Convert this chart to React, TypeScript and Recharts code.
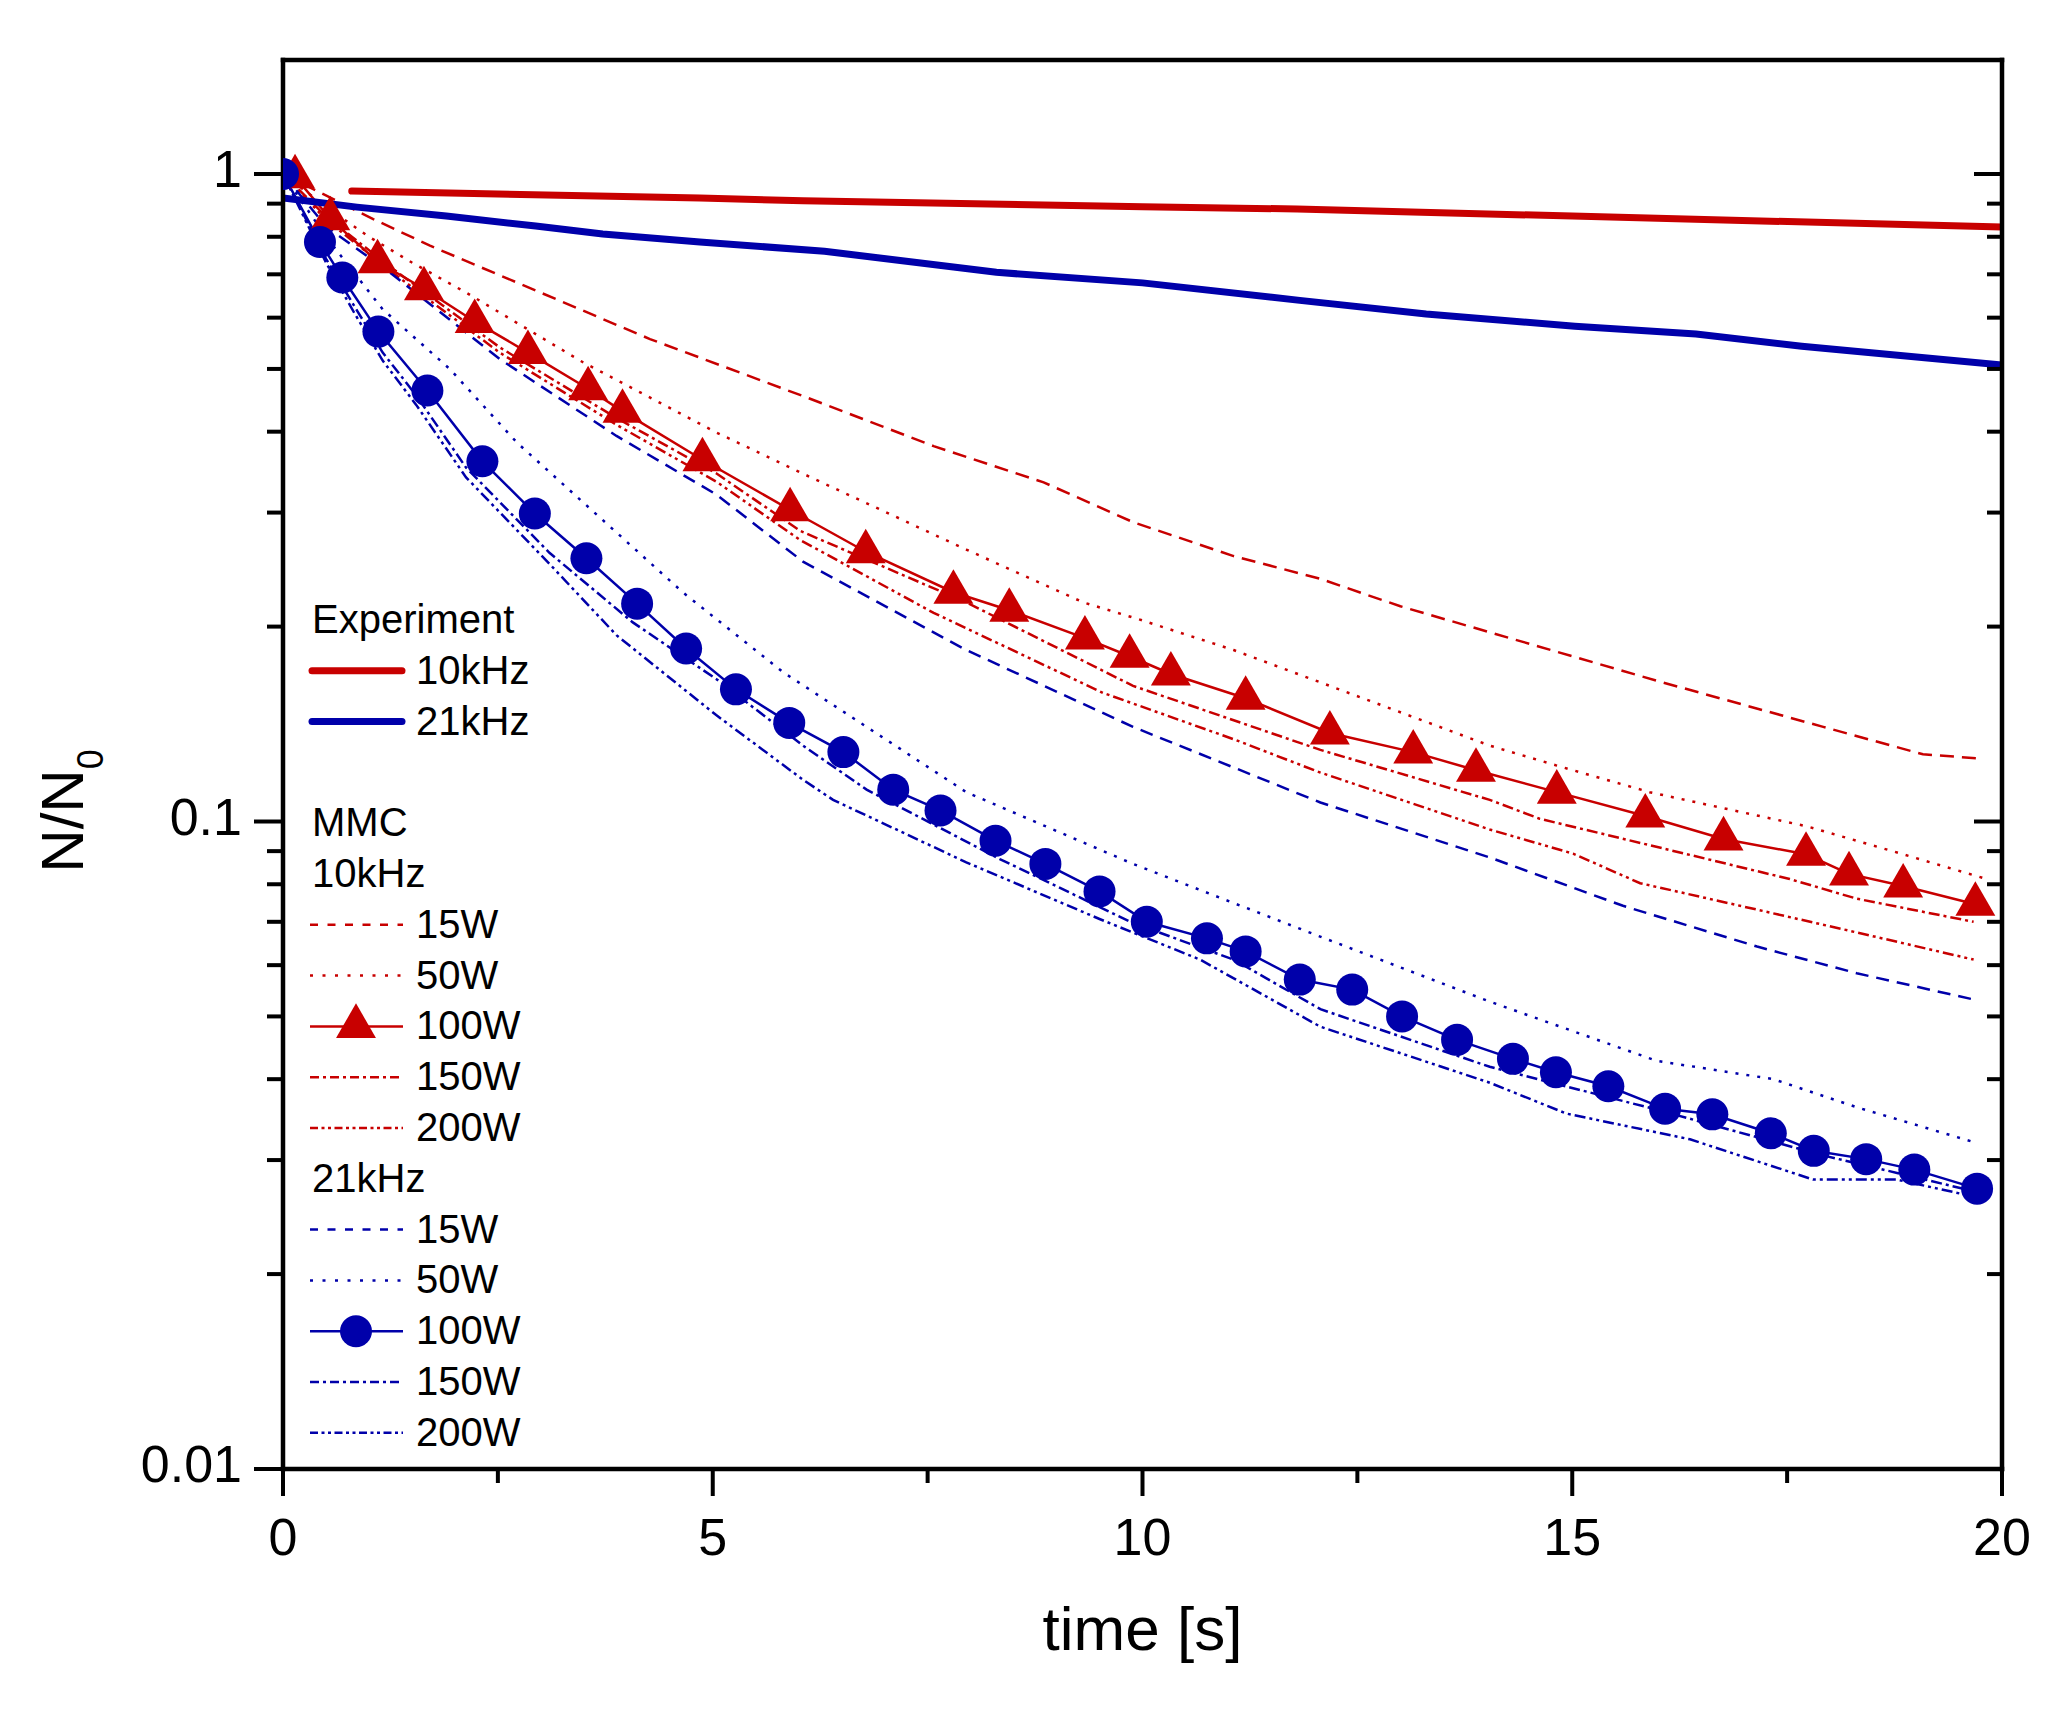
import React from "react";
import { LineChart, Line, XAxis, YAxis, Legend, Symbols } from "recharts";

const RED = "#c80000";
const BLUE = "#0000aa";
const FONT = '"Liberation Sans", Arial, Helvetica, sans-serif';

// [time s, N/N0]
const exp10kHz: [number, number][] = [
  [0.8, 0.941], [4.85, 0.918], [6.05, 0.909], [10, 0.89], [11.8, 0.883], [15, 0.861], [20, 0.828],
];
const exp21kHz: [number, number][] = [
  [0, 0.918], [0.86, 0.889], [1.9, 0.861], [2.94, 0.831], [3.72, 0.808], [4.85, 0.785], [6.3, 0.76],
  [8.3, 0.705], [10, 0.679], [11.83, 0.638], [13.3, 0.608], [15.03, 0.582], [16.44, 0.566],
  [17.67, 0.542], [20, 0.507],
];

const mmc10k15W: [number, number][] = [
  [0, 1], [0.39, 0.942], [1.05, 0.852], [1.71, 0.775], [2.95, 0.66], [4.27, 0.556], [6.05, 0.454],
  [7.57, 0.38], [8.85, 0.334], [9.89, 0.29], [11.06, 0.257], [12.07, 0.237], [13, 0.215],
  [14.04, 0.196], [15.98, 0.165], [17.92, 0.14], [19.08, 0.127], [19.78, 0.125],
];
const mmc10k50W: [number, number][] = [
  [0, 1], [0.5, 0.89], [1, 0.8], [1.5, 0.73], [2.13, 0.656], [3.49, 0.512], [5.04, 0.399],
  [6.02, 0.346], [7.95, 0.263], [9.31, 0.218], [9.97, 0.205], [11.06, 0.184], [12.07, 0.164],
  [14.04, 0.131], [14.82, 0.122], [15.9, 0.111], [17.73, 0.0983], [18.7, 0.0902], [19.78, 0.0818],
];
const mmc10k100W: [number, number][] = [
  [0.14, 0.99], [0.55, 0.853], [1.1, 0.732], [1.64, 0.665], [2.23, 0.592], [2.85, 0.53],
  [3.55, 0.466], [3.95, 0.43], [4.88, 0.362], [5.9, 0.303], [6.78, 0.261], [7.8, 0.226],
  [8.45, 0.212], [9.33, 0.192], [9.85, 0.18], [10.33, 0.169], [11.2, 0.155], [12.18, 0.137],
  [13.15, 0.128], [13.88, 0.12], [14.82, 0.111], [15.85, 0.102], [16.76, 0.094], [17.72, 0.089],
  [18.22, 0.083], [18.85, 0.0795], [19.69, 0.0745],
];
const mmc10k150W: [number, number][] = [
  [0, 1], [0.5, 0.86], [1.24, 0.72], [2.52, 0.54], [3.88, 0.42], [5.04, 0.345], [6.02, 0.281],
  [7.95, 0.218], [9.89, 0.162], [12.07, 0.129], [14.04, 0.108], [14.62, 0.101], [16.37, 0.0888],
  [17.53, 0.0815], [18.31, 0.076], [19.67, 0.07],
];
const mmc10k200W: [number, number][] = [
  [0, 1], [0.5, 0.85], [1.24, 0.71], [2.52, 0.53], [3.88, 0.41], [5.04, 0.335], [6.02, 0.272],
  [7.57, 0.21], [9.54, 0.158], [11.06, 0.134], [12.07, 0.119], [14.04, 0.0972], [15.01, 0.0892],
  [15.79, 0.0803], [17.15, 0.0731], [18.31, 0.0674], [19.67, 0.0612],
];

const mmc21k15W: [number, number][] = [
  [0, 1], [0.5, 0.83], [1.24, 0.705], [2.52, 0.518], [3.88, 0.394], [5.04, 0.32], [6.05, 0.252],
  [7.95, 0.184], [9.89, 0.14], [12.07, 0.107], [14.04, 0.088], [15.59, 0.0741], [17.15, 0.0641],
  [18.31, 0.0583], [19.67, 0.0531],
];
const mmc21k50W: [number, number][] = [
  [0, 1], [0.5, 0.8], [1.16, 0.618], [1.94, 0.5], [2.72, 0.385], [4.65, 0.226], [5.82, 0.17],
  [7.95, 0.111], [9.89, 0.086], [12.03, 0.0667], [14.04, 0.0527], [15.98, 0.0427], [17.34, 0.04],
  [18.31, 0.0362], [19.7, 0.0319],
];
const mmc21k100W: [number, number][] = [
  [0, 1], [0.43, 0.785], [0.69, 0.692], [1.11, 0.571], [1.68, 0.463], [2.32, 0.36], [2.93, 0.299],
  [3.53, 0.255], [4.12, 0.217], [4.69, 0.185], [5.27, 0.16], [5.89, 0.142], [6.52, 0.128],
  [7.1, 0.112], [7.65, 0.104], [8.29, 0.0934], [8.87, 0.086], [9.5, 0.078], [10.05, 0.07],
  [10.75, 0.066], [11.2, 0.063], [11.83, 0.057], [12.44, 0.055], [13.02, 0.05], [13.66, 0.046],
  [14.31, 0.043], [14.81, 0.041], [15.42, 0.039], [16.08, 0.036], [16.63, 0.0353], [17.31, 0.033],
  [17.81, 0.031], [18.42, 0.0301], [18.98, 0.029], [19.71, 0.0271],
];
const mmc21k150W: [number, number][] = [
  [0, 1], [0.5, 0.74], [0.83, 0.625], [1.16, 0.53], [1.55, 0.455], [2.13, 0.352], [3.1, 0.26],
  [4.07, 0.203], [5.04, 0.166], [6.05, 0.131], [6.79, 0.112], [8.34, 0.0875], [9.89, 0.0697],
  [11.06, 0.0612], [12.07, 0.0513], [14.04, 0.0418], [15.98, 0.0359], [17.92, 0.0305], [19.7, 0.0268],
];
const mmc21k200W: [number, number][] = [
  [0, 1], [0.5, 0.73], [0.83, 0.61], [1.16, 0.515], [1.55, 0.44], [2.13, 0.34], [3.1, 0.25],
  [3.88, 0.194], [5.04, 0.146], [6.05, 0.116], [6.4, 0.108], [7.95, 0.0865], [9.5, 0.0707],
  [10.67, 0.0612], [12.07, 0.0482], [14.04, 0.0395], [14.93, 0.0354], [16.37, 0.0323],
  [17.8, 0.028], [18.77, 0.028], [19.7, 0.0263],
];

const X_TICKS = [0, 2.5, 5, 7.5, 10, 12.5, 15, 17.5, 20];
const X_LABELS = [0, 5, 10, 15, 20];
const Y_TICKS = [
  0.01, 0.02, 0.03, 0.04, 0.05, 0.06, 0.07, 0.08, 0.09,
  0.1, 0.2, 0.3, 0.4, 0.5, 0.6, 0.7, 0.8, 0.9, 1,
];
const Y_LABELS = [0.01, 0.1, 1];

type Series = {
  id: string;
  label: string;
  pts: [number, number][];
  color: string;
  width: number;
  dash?: string;
  legendDash?: string;
  marker?: "triangle" | "circle";
  thick?: boolean;
};

const expSeries: Series[] = [
  { id: "e10", label: "10kHz", pts: exp10kHz, color: RED, width: 7, thick: true },
  { id: "e21", label: "21kHz", pts: exp21kHz, color: BLUE, width: 7, thick: true },
];
const red: Series[] = [
  { id: "r15", label: "15W", pts: mmc10k15W, color: RED, width: 2.5, dash: "14 8", legendDash: "8 9.5" },
  { id: "r50", label: "50W", pts: mmc10k50W, color: RED, width: 2.5, dash: "3 8", legendDash: "3 9.5" },
  { id: "r100", label: "100W", pts: mmc10k100W, color: RED, width: 2.5, marker: "triangle" },
  { id: "r150", label: "150W", pts: mmc10k150W, color: RED, width: 2.5, dash: "11 4 3 4", legendDash: "9 4 3 4" },
  { id: "r200", label: "200W", pts: mmc10k200W, color: RED, width: 2.5, dash: "11 4 3 4 3 4", legendDash: "8 3.5 3 3.5 3 3.5" },
];
const blue: Series[] = [
  { id: "b15", label: "15W", pts: mmc21k15W, color: BLUE, width: 2.5, dash: "13 8", legendDash: "8 9.5" },
  { id: "b50", label: "50W", pts: mmc21k50W, color: BLUE, width: 2.5, dash: "3 8", legendDash: "3 9.5" },
  { id: "b100", label: "100W", pts: mmc21k100W, color: BLUE, width: 2.5, marker: "circle" },
  { id: "b150", label: "150W", pts: mmc21k150W, color: BLUE, width: 2.5, dash: "11 4 3 4", legendDash: "9 4 3 4" },
  { id: "b200", label: "200W", pts: mmc21k200W, color: BLUE, width: 2.5, dash: "11 4 3 4 3 4", legendDash: "8 3.5 3 3.5 3 3.5" },
];

type Row = { head: string } | { s: Series } | null;
const LEGEND_ROWS: Row[] = [
  { head: "Experiment" },
  ...expSeries.map((s) => ({ s })),
  null,
  { head: "MMC" },
  { head: "10kHz" },
  ...red.map((s) => ({ s })),
  { head: "21kHz" },
  ...blue.map((s) => ({ s })),
];

const toPts = (arr: [number, number][]) => arr.map(([t, v]) => ({ t, v }));

const AXIS = { stroke: "#000", strokeWidth: 4.5, strokeLinecap: "square" as const };

const BottomTick = (p: any) => {
  const major = X_LABELS.includes(p.payload.value);
  return (
    <g>
      <line x1={p.x} x2={p.x} y1={p.y} y2={p.y + (major ? 27 : 14)} stroke="#000" strokeWidth={4} />
      {major && (
        <text x={p.x} y={p.y + 86} textAnchor="middle" fontSize={52} fontFamily={FONT} fill="#000">
          {p.payload.value}
        </text>
      )}
    </g>
  );
};
const TopTick = (p: any) => {
  const major = X_LABELS.includes(p.payload.value);
  return <line x1={p.x} x2={p.x} y1={p.y} y2={p.y + (major ? 27 : 15)} stroke="#000" strokeWidth={4} />;
};
const LeftTick = (p: any) => {
  const major = Y_LABELS.includes(p.payload.value);
  return (
    <g>
      <line x1={p.x - (major ? 29 : 16)} x2={p.x} y1={p.y} y2={p.y} stroke="#000" strokeWidth={4} />
      {major && (
        <text x={p.x - 41} y={p.y + 13} textAnchor="end" fontSize={52} fontFamily={FONT} fill="#000">
          {String(p.payload.value)}
        </text>
      )}
    </g>
  );
};
const RightTick = (p: any) => {
  const major = Y_LABELS.includes(p.payload.value);
  return <line x1={p.x - (major ? 28 : 15)} x2={p.x} y1={p.y} y2={p.y} stroke="#000" strokeWidth={4} />;
};

const XTitle = (p: any) => {
  const vb = p.viewBox;
  return (
    <text x={vb.x + vb.width / 2} y={vb.y + 181} textAnchor="middle" fontSize={62} fontFamily={FONT} fill="#000">
      time [s]
    </text>
  );
};
const YTitle = () => (
  <text transform="translate(83, 811) rotate(-90)" textAnchor="middle" fontSize={60} fontFamily={FONT} fill="#000">
    N/N<tspan fontSize={36} dy={20}>0</tspan>
  </text>
);

const dotFor = (s: Series) => {
  if (s.marker === "triangle")
    return (p: any) => (
      <Symbols key={`${s.id}-${p.index}`} type="triangle" size={690} cx={p.cx} cy={p.cy} fill={s.color} stroke="none" />
    );
  if (s.marker === "circle")
    return (p: any) => <circle key={`${s.id}-${p.index}`} cx={p.cx} cy={p.cy} r={16} fill={s.color} />;
  return false;
};

const renderLegend = () => (
  <svg width={260} height={880} style={{ display: "block", overflow: "visible" }}>
    {LEGEND_ROWS.map((row, i) => {
      if (!row) return null;
      const base = 43 + i * 50.8;
      if ("head" in row)
        return (
          <text key={i} x={12} y={base} fontSize={40} fontFamily={FONT} fill="#000">
            {row.head}
          </text>
        );
      const s = row.s;
      const ly = base - 13;
      return (
        <g key={i}>
          {s.thick ? (
            <line x1={12} x2={102} y1={ly} y2={ly} stroke={s.color} strokeWidth={7} strokeLinecap="round" />
          ) : (
            <line x1={10} x2={103} y1={ly} y2={ly} stroke={s.color} strokeWidth={2.5} strokeDasharray={s.legendDash} />
          )}
          {s.marker === "triangle" && <Symbols type="triangle" size={690} cx={56} cy={ly} fill={s.color} />}
          {s.marker === "circle" && <circle cx={56} cy={ly} r={16} fill={s.color} />}
          <text x={116} y={base} fontSize={40} fontFamily={FONT} fill="#000">
            {s.label}
          </text>
        </g>
      );
    })}
  </svg>
);

export default function App() {
  const all = [...red, ...blue, ...expSeries];
  return (
    <div style={{ position: "absolute", left: 0, top: 0, background: "#fff" }}>
      <LineChart width={2057} height={1709} margin={{ top: 0, right: 0, bottom: 0, left: 0 }}>
        <XAxis
          xAxisId="x"
          dataKey="t"
          type="number"
          domain={[0, 20]}
          ticks={X_TICKS}
          interval={0}
          allowDataOverflow
          height={240}
          tickSize={0}
          tickMargin={0}
          tickLine={false}
          axisLine={AXIS}
          tick={(p: any) => <BottomTick {...p} />}
          label={(p: any) => <XTitle {...p} />}
        />
        <XAxis
          xAxisId="xt"
          orientation="top"
          type="number"
          domain={[0, 20]}
          ticks={X_TICKS}
          interval={0}
          height={60}
          tickSize={0}
          tickMargin={0}
          tickLine={false}
          axisLine={AXIS}
          tick={(p: any) => <TopTick {...p} />}
        />
        <YAxis
          yAxisId="y"
          type="number"
          scale="log"
          domain={[0.01, 1.5]}
          ticks={Y_TICKS}
          interval={0}
          allowDataOverflow
          width={283}
          tickSize={0}
          tickMargin={0}
          tickLine={false}
          axisLine={AXIS}
          tick={(p: any) => <LeftTick {...p} />}
          label={() => <YTitle />}
        />
        <YAxis
          yAxisId="yr"
          orientation="right"
          type="number"
          scale="log"
          domain={[0.01, 1.5]}
          ticks={Y_TICKS}
          interval={0}
          allowDataOverflow
          width={55}
          tickSize={0}
          tickMargin={0}
          tickLine={false}
          axisLine={AXIS}
          tick={(p: any) => <RightTick {...p} />}
        />
        {all.map((s) => (
          <Line
            key={s.id}
            data={toPts(s.pts)}
            dataKey="v"
            xAxisId="x"
            yAxisId="y"
            type="linear"
            stroke={s.color}
            strokeWidth={s.width}
            strokeDasharray={s.dash}
            strokeLinecap={s.thick ? "round" : "butt"}
            dot={dotFor(s) as any}
            activeDot={false}
            isAnimationActive={false}
          />
        ))}
        <Legend
          content={renderLegend}
          layout="vertical"
          align="center"
          verticalAlign="middle"
          wrapperStyle={{ left: 300, top: 590, width: 260, height: 880 }}
        />
      </LineChart>
    </div>
  );
}
